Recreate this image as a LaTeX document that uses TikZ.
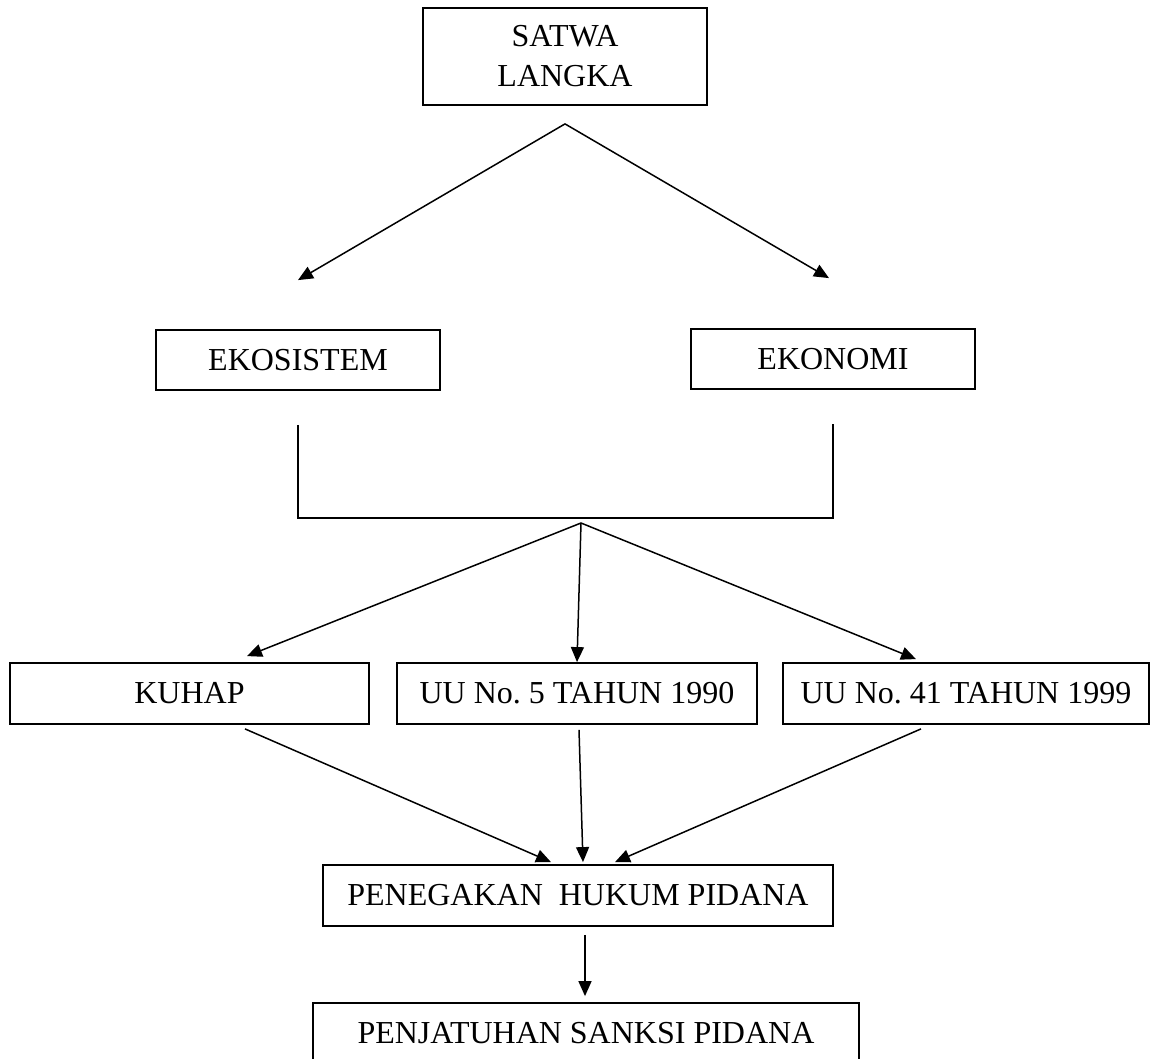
\documentclass[tikz,border=0pt]{standalone}
\usepackage{fontspec}
\setmainfont{Liberation Serif}
\usetikzlibrary{arrows.meta}

\begin{document}
\begin{tikzpicture}[x=0.5pt,y=-0.5pt,>={Triangle[length=7.5pt,width=6.5pt]},
  kotak/.style={draw,line width=0.9pt,inner sep=0pt,align=center,font=\fontsize{16}{20}\selectfont\frenchspacing},
  panah/.style={->,line width=0.75pt},
  garis/.style={line width=0.75pt}]
  \useasboundingbox (0,0) rectangle (1152,1059);
  \clip (0,0) rectangle (1152,1059);
  \node[kotak,minimum width=142pt,minimum height=48.5pt] (satwa) at (565,56.5) {SATWA\\LANGKA};
  \node[kotak,minimum width=142pt,minimum height=30pt] (ekosistem) at (298,360) {EKOSISTEM};
  \node[kotak,minimum width=142pt,minimum height=30pt] (ekonomi) at (833,359) {EKONOMI};
  \node[kotak,minimum width=179.5pt,minimum height=30.5pt] (kuhap) at (189.5,693.5) {KUHAP};
  \node[kotak,minimum width=180pt,minimum height=30.5pt] (uuLima) at (577,693.5) {UU No. 5 TAHUN 1990};
  \node[kotak,minimum width=183pt,minimum height=30.5pt] (uuEmpatSatu) at (966,693.5) {UU No. 41 TAHUN 1999};
  \node[kotak,minimum width=255pt,minimum height=30.5pt] (penegakan) at (578,895.5) {PENEGAKAN\ \ HUKUM PIDANA};
  \node[kotak,minimum width=273pt,minimum height=30.5pt] (penjatuhan) at (586,1033.5) {PENJATUHAN SANKSI PIDANA};

  \coordinate (pecah) at ([yshift=-9pt]satwa.south);
  \draw[panah] (pecah) -- ([yshift=24.5pt]ekosistem.north);
  \draw[panah] (pecah) -- ([xshift=-2pt,yshift=25pt]ekonomi.north);

  \coordinate (ujungBatang) at (833,518);
  \draw[garis] ([yshift=-17pt]ekosistem.south) |- (ujungBatang) -- ([yshift=-17pt]ekonomi.south);

  \coordinate (simpul) at (581,523);
  \draw[panah] (simpul) -- ([xshift=28.75pt,yshift=3pt]kuhap.north);
  \draw[panah] (simpul) -- (uuLima.north);
  \draw[panah] (simpul) -- ([xshift=-25pt,yshift=1.5pt]uuEmpatSatu.north);

  \draw[panah] ([xshift=27.75pt,yshift=-2pt]kuhap.south) -- ([xshift=-13.5pt,yshift=1pt]penegakan.north);
  \draw[panah] ([xshift=1pt,yshift=-2.5pt]uuLima.south) -- ([xshift=2.5pt,yshift=1pt]penegakan.north);
  \draw[panah] ([xshift=-22.5pt,yshift=-2pt]uuEmpatSatu.south) -- ([xshift=18.5pt,yshift=1pt]penegakan.north);
  \draw[panah] ([xshift=3.5pt,yshift=-4pt]penegakan.south) -- ([xshift=-0.5pt,yshift=3pt]penjatuhan.north);
\end{tikzpicture}
\end{document}
